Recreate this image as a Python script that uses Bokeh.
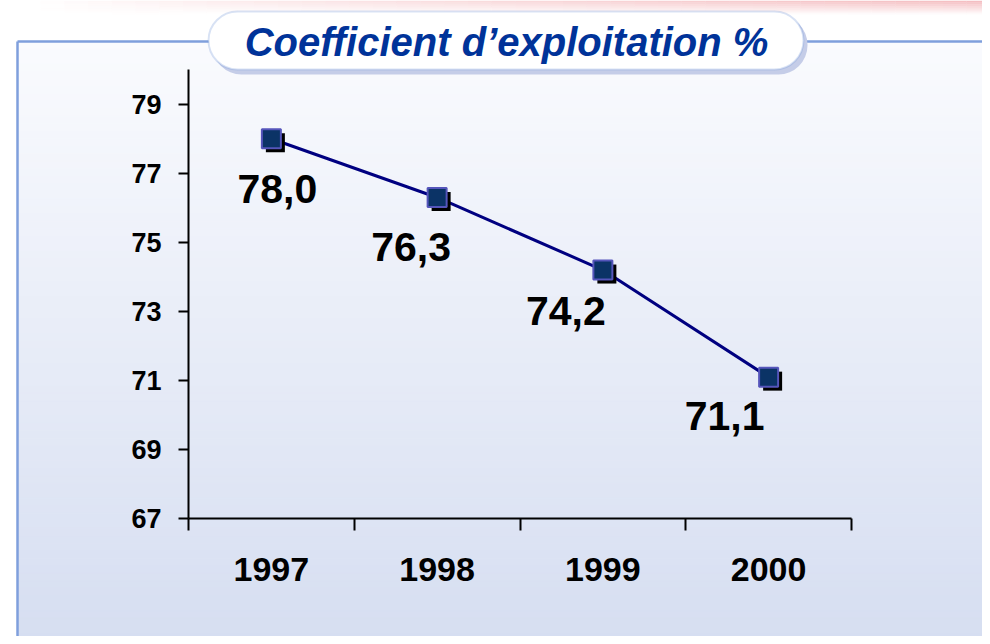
import numpy as np
from bokeh.plotting import figure
from bokeh.models import (Range1d, LinearAxis, FixedTicker, BoxAnnotation, Label,
                          ColumnDataSource)
from bokeh.transform import dodge
from bokeh.core.properties import value
from bokeh.embed import file_html
from bokeh.resources import INLINE

# ---------------- data ----------------
years = ["1997", "1998", "1999", "2000"]
coef = [78.0, 76.3, 74.2, 71.1]
value_labels = ["78,0", "76,3", "74,2", "71,1"]
y_ticks = [67, 69, 71, 73, 75, 77, 79]
title_text = "Coefficient d\u2019exploitation %"

# ---------------- layout (pixels) ----------------
W, H = 982, 636
X_PX0 = 188.0     # canvas px of x = 0 (left axis)
X_PPU = 165.75    # px per category
Y_PX67 = 518.3    # canvas px (from top) of y = 67
Y_PPU = 34.55     # px per unit

x_start = -X_PX0 / X_PPU
x_end = (W - X_PX0) / X_PPU
y_end = 67 + Y_PX67 / Y_PPU
y_start = 67 - (H - Y_PX67) / Y_PPU


def dx(px):
    return (px - X_PX0) / X_PPU


def dy(py):
    return 67 + (Y_PX67 - py) / Y_PPU


p = figure(width=W, height=H, x_range=Range1d(x_start, x_end),
           y_range=Range1d(y_start, y_end), output_backend="svg",
           toolbar_location=None, min_border=0, x_axis_type=None,
           y_axis_type=None, background_fill_color="white",
           border_fill_color="white", outline_line_color=None)

# ---------------- background gradient ----------------
n = 80
edges = np.linspace(41, 640, n + 1)
c0 = np.array([0xfa, 0xfb, 0xfe])
c1 = np.array([0xd6, 0xde, 0xf1])
cols = []
for i in range(n):
    t = (i + 0.5) / n
    c = c0 + (c1 - c0) * t
    cols.append('#%02x%02x%02x' % tuple(int(round(v)) for v in c))
p.quad(left=dx(17), right=dx(990), top=[dy(e) for e in edges[:-1]],
       bottom=[dy(e) for e in edges[1:]], fill_color=cols, line_color=cols,
       line_width=1, level="image")

# pink strip at the top
pl, pr, pt, pb, pa = [], [], [], [], []
ncol, nrow = 40, 7
xe = np.linspace(40, 990, ncol + 1)
ye = np.linspace(0, 14, nrow + 1)
for i in range(ncol):
    ax_ = ((i + 0.5) / ncol) ** 0.8
    for j in range(nrow):
        ay_ = 1 - (j + 0.5) / nrow
        pl.append(dx(xe[i])); pr.append(dx(xe[i + 1]))
        pt.append(dy(ye[j])); pb.append(dy(ye[j + 1]))
        pa.append(0.6 * ax_ * ay_)
p.quad(left=pl, right=pr, top=pt, bottom=pb, fill_color="#ec8a90",
       fill_alpha=pa, line_color=None, level="image")

# frame border
p.line([dx(17), dx(17)], [dy(41), dy(640)], line_color="#7f9fdc",
       line_width=2.5, level="underlay")
p.line([dx(17), dx(990)], [dy(41), dy(41)], line_color="#7f9fdc",
       line_width=2.5, level="underlay")

# ---------------- axes ----------------
ncat = len(years)
xs = [i + 0.5 for i in range(ncat)]

yax = LinearAxis(fixed_location=0, bounds=(67, 80),
                 ticker=FixedTicker(ticks=y_ticks, minor_ticks=[]),
                 axis_line_color="black", axis_line_width=2,
                 major_tick_line_color="black", major_tick_line_width=2,
                 major_tick_in=0, major_tick_out=10, minor_tick_line_color=None,
                 major_label_standoff=17,
                 major_label_text_font="Liberation Sans",
                 major_label_text_font_style="bold",
                 major_label_text_font_size="27px",
                 major_label_text_color="black")
p.add_layout(yax, "left")

xax = LinearAxis(fixed_location=67, bounds=(0, ncat),
                 ticker=FixedTicker(ticks=list(range(ncat + 1)), minor_ticks=[]),
                 axis_line_color="black", axis_line_width=2,
                 major_tick_line_color="black", major_tick_line_width=2,
                 major_tick_in=0, major_tick_out=12, minor_tick_line_color=None,
                 major_label_overrides={i: "" for i in range(ncat + 1)})
p.add_layout(xax, "below")

xlab = LinearAxis(fixed_location=67, bounds=(0, ncat),
                  ticker=FixedTicker(ticks=xs, minor_ticks=[]),
                  axis_line_color=None, major_tick_line_color=None,
                  minor_tick_line_color=None, major_tick_in=0, major_tick_out=0,
                  major_label_overrides={x: y for x, y in zip(xs, years)},
                  major_label_standoff=39,
                  major_label_text_font="Liberation Sans",
                  major_label_text_font_style="bold",
                  major_label_text_font_size="34px",
                  major_label_text_color="black")
p.add_layout(xlab, "below")

# ---------------- series ----------------
label_dx = [6, -26, -37, -44]
label_dy = [50, 50, 41, 39]
src = ColumnDataSource(dict(x=xs, y=coef, lab=value_labels,
                            ldx=label_dx, ldy=label_dy))

p.line('x', 'y', source=src, line_color="#000080", line_width=3)
p.scatter(x=dodge('x', 4 / X_PPU), y=dodge('y', -4 / Y_PPU), source=src,
          marker="square", size=19, fill_color="black", line_color=None)
p.scatter('x', 'y', source=src, marker="square", size=19,
          fill_color="#0b3366", line_color="#5555bb", line_width=2)
p.text('x', 'y', text='lab', source=src, x_offset='ldx', y_offset='ldy',
       text_align="center", text_baseline="middle",
       text_font=value("Liberation Sans"), text_font_style="bold",
       text_font_size="41px", text_color="black")

# ---------------- title box ----------------
p.add_layout(BoxAnnotation(left=dx(212), right=dx(807), top=dy(15),
                           bottom=dy(74), border_radius=29,
                           fill_color="#c5cde8", fill_alpha=1,
                           line_color=None, level="annotation"))
p.add_layout(BoxAnnotation(left=dx(208), right=dx(803), top=dy(11),
                           bottom=dy(69), border_radius=29,
                           fill_color="white", fill_alpha=1,
                           line_color="#7f9fdc", line_width=2,
                           level="annotation"))
p.add_layout(Label(x=dx(506), y=dy(41), text=title_text, text_align="center",
                   text_baseline="alphabetic", text_font="Liberation Sans",
                   text_font_style="bold italic", text_font_size="40px",
                   text_color="#003399"))

open("out.html", "w").write(file_html(p, INLINE))
